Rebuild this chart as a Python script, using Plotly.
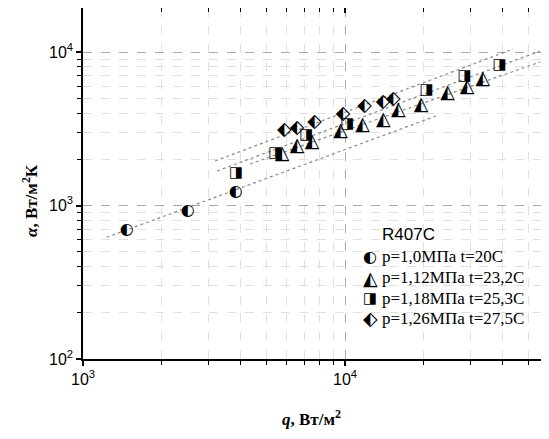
import plotly.graph_objects as go

# ---- data ----
q_s1 = [1470, 2510, 3830]
a_s1 = [692, 921, 1219]

q_s2 = [5750, 6560, 7480, 9610, 11660, 13990, 15970, 19500, 24620, 29220, 33570]
a_s2 = [2165, 2423, 2573, 3057, 3335, 3579, 4158, 4469, 5350, 5940, 6640]

q_s3 = [3840, 5420, 7120, 10200, 20500, 28580, 38910]
a_s3 = [1621, 2188, 2871, 3381, 5671, 6976, 8192]

q_s4 = [5860, 6560, 7650, 9840, 11870, 13960, 15290]
a_s4 = [3117, 3188, 3499, 3934, 4462, 4688, 4920]

# fitted (dotted) lines: end points
fit_q1 = [1231, 22400]
fit_a1 = [621, 3845]
fit_q2 = [4339, 55500]
fit_a2 = [1864, 8608]
fit_q3 = [3247, 55500]
fit_a3 = [1678, 10150]
fit_q4 = [3190, 43780]
fit_a4 = [1950, 10460]

names = ["p=1,0МПа t=20C", "p=1,12МПа t=23,2C", "p=1,18МПа t=25,3C", "p=1,26МПа t=27,5C"]
glyphs = ["\u25D0", "\u25ED", "\u25E8", "\u2B16"]   # half-filled marker glyphs
glyph_sizes = [16, 19, 15, 19]
legend_title = "R407C"

x_major = [1e3, 1e4]
x_major_text = ["10<sup>3</sup>", "10<sup>4</sup>"]
x_minor = [2e3, 3e3, 4e3, 5e3, 6e3, 7e3, 8e3, 9e3, 2e4, 3e4, 4e4, 5e4]
y_major = [1e2, 1e3, 1e4]
y_major_text = ["10<sup>2</sup>", "10<sup>3</sup>", "10<sup>4</sup>"]
y_minor = [2e2, 3e2, 4e2, 5e2, 6e2, 7e2, 8e2, 9e2,
           2e3, 3e3, 4e3, 5e3, 6e3, 7e3, 8e3, 9e3, 2e4]

GLYPH_FONT = "DejaVu Sans"

fig = go.Figure()

for fq, fa in [(fit_q1, fit_a1), (fit_q2, fit_a2), (fit_q3, fit_a3), (fit_q4, fit_a4)]:
    fig.add_trace(go.Scatter(x=fq, y=fa, mode="lines",
                             line=dict(color="#8a8a8a", width=1.2, dash="dot"),
                             showlegend=False, hoverinfo="skip"))

series = [(q_s1, a_s1), (q_s2, a_s2), (q_s3, a_s3), (q_s4, a_s4)]
for (q, a), g, gs, nm in zip(series, glyphs, glyph_sizes, names):
    fig.add_trace(go.Scatter(
        x=q, y=a, mode="text", name=nm, text=[g] * len(q),
        textposition="middle center",
        textfont=dict(family=GLYPH_FONT, size=gs, color="black"),
        showlegend=False))

# dummy trace for mirrored inside-tick axes
fig.add_trace(go.Scatter(x=[None], y=[None], xaxis="x2", yaxis="y2",
                         showlegend=False, hoverinfo="skip"))

xr = [3, 4.771]
yr = [2, 4.287]

# body has an 8px default margin -> compensate
fig.update_layout(
    width=541, height=431,
    margin=dict(l=75, r=2, t=0, b=80),
    paper_bgcolor="white", plot_bgcolor="white",
    font=dict(family="Liberation Sans, Arial", size=15, color="black"),
    showlegend=False,
    xaxis=dict(type="log", range=xr, tickvals=x_major, ticktext=x_major_text,
               ticks="outside", ticklen=5, tickwidth=1.5, tickcolor="black",
               showline=True, linecolor="black", linewidth=1.5, mirror=True,
               showgrid=True, gridcolor="#aaaaaa", griddash="dash", gridwidth=1,
               zeroline=False, automargin=False,
               tickfont=dict(family="Liberation Sans, Arial", size=16),
               minor=dict(tickvals=x_minor, ticks="outside", ticklen=4,
                          tickwidth=1.2, tickcolor="black", showgrid=True,
                          gridcolor="#e0e0e0", griddash="dash", gridwidth=1)),
    yaxis=dict(type="log", range=yr, tickvals=y_major, ticktext=y_major_text,
               ticks="outside", ticklen=5, tickwidth=1.5, tickcolor="black",
               showline=True, linecolor="black", linewidth=1.5, mirror=True,
               showgrid=True, gridcolor="#aaaaaa", griddash="dash", gridwidth=1,
               zeroline=False, automargin=False,
               tickfont=dict(family="Liberation Sans, Arial", size=16),
               minor=dict(tickvals=y_minor, ticks="outside", ticklen=4,
                          tickwidth=1.2, tickcolor="black", showgrid=True,
                          gridcolor="#e0e0e0", griddash="dash", gridwidth=1)),
    xaxis2=dict(type="log", range=xr, overlaying="x", side="top", anchor="y",
                tickvals=x_major, ticks="inside", ticklen=5, tickwidth=1.5,
                tickcolor="black", showticklabels=False, showgrid=False,
                zeroline=False, automargin=False,
                minor=dict(tickvals=x_minor, ticks="inside", ticklen=4,
                           tickwidth=1.2, tickcolor="black", showgrid=False)),
    yaxis2=dict(type="log", range=yr, overlaying="y", side="right", anchor="x",
                tickvals=y_major, ticks="inside", ticklen=5, tickwidth=1.5,
                tickcolor="black", showticklabels=False, showgrid=False,
                zeroline=False, automargin=False,
                minor=dict(tickvals=y_minor, ticks="inside", ticklen=4,
                           tickwidth=1.2, tickcolor="black", showgrid=False)),
)

# plot area in window pixels: x 83..547, y 8..359
def px(x):
    return (x - 83) / 464.0


def py(y):
    return (359 - y) / 351.0


# legend (manual, so that glyph markers match the points)
fig.add_annotation(text=legend_title, xref="paper", yref="paper",
                   x=px(380), y=py(234), xanchor="left", yanchor="middle",
                   showarrow=False,
                   font=dict(family="Liberation Sans, Arial", size=17))
row_y = [257, 277.5, 298, 318]
for g, gs, nm, ry in zip(glyphs, glyph_sizes, names, row_y):
    fig.add_annotation(text=g, xref="paper", yref="paper",
                       x=px(370), y=py(ry), xanchor="center", yanchor="middle",
                       showarrow=False,
                       font=dict(family=GLYPH_FONT, size=gs))
    fig.add_annotation(text=nm, xref="paper", yref="paper",
                       x=px(380), y=py(ry), xanchor="left", yanchor="middle",
                       showarrow=False,
                       font=dict(family="Liberation Serif, Times New Roman", size=17))

fig.add_annotation(text="<b><i>q</i>, Вт/м<sup>2</sup></b>", xref="paper", yref="paper",
                   x=px(311), y=py(418), xanchor="center", yanchor="middle",
                   showarrow=False,
                   font=dict(family="Liberation Serif, Times New Roman", size=17))

fig.add_annotation(text="<b><i>α</i>, Вт/м<sup>2</sup>К</b>", xref="paper", yref="paper",
                   x=px(30), y=py(201), xanchor="center", yanchor="middle",
                   showarrow=False, textangle=-90,
                   font=dict(family="Liberation Serif, Times New Roman", size=17))

fig.write_html("out.html")
